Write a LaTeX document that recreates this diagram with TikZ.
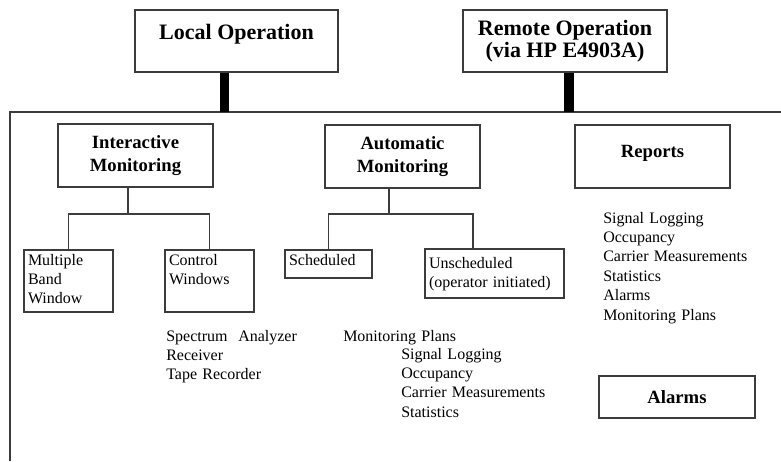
\documentclass[tikz,border=0pt]{standalone}
\usepackage{fontspec}
\setmainfont{Liberation Serif}
\usetikzlibrary{calc,positioning}
\definecolor{linegray}{RGB}{60,60,60}
\tikzset{
  link/.style={draw=linegray, line width=1pt},
  stem/.style={draw=black, line width=7pt},
  topbox/.style={shape=rectangle, draw=linegray, line width=1pt, align=center, inner sep=2pt, minimum width=152.25pt, minimum height=46.5pt, font=\fontsize{16.5}{16.5}\selectfont\bfseries},
  groupbox/.style={topbox, minimum width=116.25pt, minimum height=47.25pt, font=\fontsize{14}{17.25}\selectfont\bfseries},
  leafbox/.style={shape=rectangle, draw=linegray, line width=1pt, align=left, inner xsep=3pt, inner ysep=2pt, text height=9.25pt, font=\fontsize{12}{14.6}\selectfont},
  listtext/.style={align=left, text width=120pt, inner sep=0pt, anchor=base west, font=\fontsize{12}{14.6}\selectfont}
}
\begin{document}
\begin{tikzpicture}[x=0.75pt, y=-0.75pt]
  \useasboundingbox (0,0) rectangle (781,461);
  \node[topbox, text height=11.5pt, text depth=13.7pt] (local) at (236.5,41) {Local Operation};
  \node[topbox, minimum width=153pt] (remote) at (565,41) {Remote Operation\\(via HP E4903A)};

  % frame that gathers the three branches
  \coordinate (frameL) at (10,112);
  \coordinate (frameR) at (781,112);
  \coordinate (frameB) at (10,461);
  \draw[link] (frameB) -- (frameL) -- (frameR);
  \coordinate (localfoot) at ($(local.south)+(-12,0)$);
  \coordinate (remotefoot) at ($(remote.south)+(4,0)$);
  \draw[stem] (localfoot) -- (localfoot |- frameL);
  \draw[stem] (remotefoot) -- (remotefoot |- frameL);

  \node[groupbox] (interactive) at (135.5,155.5) {Interactive\\Monitoring};
  \node[groupbox] (automatic) at (402.5,156.5) {Automatic\\Monitoring};
  \node[groupbox, text height=10pt, text depth=8.8pt] (reports) at (652.5,156.5) {Reports};

  \node[leafbox, text width=60.75pt, text depth=33.25pt] (multiple) at (68.5,281) {Multiple\\Band\\Window};
  \node[leafbox, text width=60.75pt, text depth=33.25pt] (control) at (209.5,281) {Control\\Windows};
  \node[leafbox, text width=59.25pt, text depth=7.75pt] (scheduled) at (328.5,264) {Scheduled};
  \node[leafbox, text width=98.25pt, text height=12.25pt, text depth=20.5pt] (unscheduled) at (494.5,273.5) {Unscheduled\\(operator initiated)};

  % branches
  \coordinate (ifork) at (128,214);
  \coordinate (afork) at (389,214);
  \coordinate (unschedtop) at ($(unscheduled.north)+(-21.5,0)$);
  \draw[link] (interactive.south -| ifork) -- (ifork);
  \draw[link] (multiple.north) |- (ifork) -| (control.north);
  \draw[link] (automatic.south -| afork) -- (afork);
  \draw[link] (scheduled.north) |- (afork) -| (unschedtop);

  \node[listtext] (instruments) at (166,341) {Spectrum\ \ Analyzer\\Receiver\\Tape Recorder};
  \node[listtext] (plans) at (343,341) {Monitoring Plans};
  \node[listtext] (plansteps) at (401,359) {Signal Logging\\Occupancy\\Carrier Measurements\\Statistics};
  \node[listtext] (reportitems) at (603,223) {Signal Logging\\Occupancy\\Carrier Measurements\\Statistics\\Alarms\\Monitoring Plans};

  \node[groupbox, minimum width=117pt, minimum height=31.5pt] (alarms) at (677,397) {Alarms};
\end{tikzpicture}
\end{document}
